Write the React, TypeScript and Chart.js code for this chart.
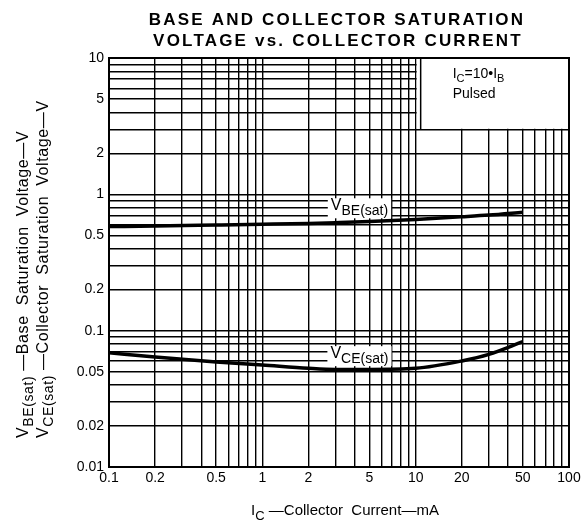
import React, { useEffect, useRef } from "react";
import { Chart, registerables } from "chart.js";

Chart.register(...registerables);

// ---- data ----
const currentMA = [0.1, 0.2, 0.5, 1, 2, 3, 5, 10, 20, 30, 50];
const vbeSat = [0.58, 0.585, 0.595, 0.603, 0.612, 0.62, 0.632, 0.655, 0.685, 0.705, 0.74];
const vceSat = [0.069, 0.064, 0.059, 0.056, 0.053, 0.052, 0.052, 0.053, 0.06, 0.067, 0.083];

const xTickLabels = [0.1, 0.2, 0.5, 1, 2, 5, 10, 20, 50, 100];
const yTickLabels = [0.01, 0.02, 0.05, 0.1, 0.2, 0.5, 1, 2, 5, 10];
const xDecades = [0.1, 1, 10];
const yDecades = [0.01, 0.1, 1];
const xMax = 100;
const yMax = 10;

// legend box (data coords) and curve label anchors
const boxX = [10, 100];
const boxY = [3, 10];
const labelAnchorX = [4.3, 4.3];
const labelAnchorY = [0.79, 0.065];
const curveLabelSubs = ["BE(sat)", "CE(sat)"];

const titleLines = ["BASE AND COLLECTOR SATURATION", "VOLTAGE vs. COLLECTOR CURRENT"];

const FONT = "'Liberation Sans', Arial, sans-serif";

function gridValues(decades: number[], max: number) {
  const out: number[] = [];
  decades.forEach((d) => {
    for (let m = 1; m <= 9; m++) out.push(+(d * m).toPrecision(6));
  });
  out.push(max);
  return out;
}
const xGrid = gridValues(xDecades, xMax);
const yGrid = gridValues(yDecades, yMax);

function isLabeled(v: number, list: number[]) {
  return list.some((l) => Math.abs(l - v) / l < 1e-6);
}

type Part = { t: string; sub?: boolean };

function drawRich(ctx: CanvasRenderingContext2D, parts: Part[], x: number, y: number, size: number, align: "left" | "center", subScale = 0.82, subOff = 0.3) {
  const fonts = parts.map((p) => `${p.sub ? Math.round(size * subScale) : size}px ${FONT}`);
  let total = 0;
  const widths = parts.map((p, i) => {
    ctx.font = fonts[i];
    const w = ctx.measureText(p.t).width;
    total += w;
    return w;
  });
  let cx = align === "center" ? x - total / 2 : x;
  ctx.textAlign = "left";
  ctx.textBaseline = "alphabetic";
  parts.forEach((p, i) => {
    ctx.font = fonts[i];
    ctx.fillText(p.t, cx, y + (p.sub ? size * subOff : 0));
    cx += widths[i];
  });
  return total;
}

const decoPlugin = {
  id: "deco",
  beforeDatasetsDraw(chart: any) {
    const ctx: CanvasRenderingContext2D = chart.ctx;
    const xs = chart.scales.x;
    const ys = chart.scales.y;
    const ca = chart.chartArea;
    ctx.save();
    // legend box
    const l = xs.getPixelForValue(boxX[0]);
    const r = xs.getPixelForValue(boxX[1]);
    const t = ys.getPixelForValue(boxY[1]);
    const b = ys.getPixelForValue(boxY[0]);
    ctx.fillStyle = "#fff";
    ctx.fillRect(l + 1, t + 1, r - l - 2, b - t - 1.5);
    ctx.strokeStyle = "#000";
    ctx.lineWidth = 1.5;
    ctx.beginPath();
    ctx.moveTo(l + 5, t);
    ctx.lineTo(l + 5, b);
    ctx.stroke();
    // frame
    ctx.lineWidth = 2;
    ctx.strokeRect(ca.left, ca.top, ca.right - ca.left, ca.bottom - ca.top);
    // legend text
    ctx.fillStyle = "#000";
    const tx = l + 37;
    drawRich(ctx, [{ t: "I" }, { t: "C", sub: true }, { t: "=10•I" }, { t: "B", sub: true }], tx, t + 20, 14, "left");
    ctx.font = `14px ${FONT}`;
    ctx.fillText("Pulsed", tx, t + 40);
    ctx.restore();
  },
  afterDatasetsDraw(chart: any) {
    const ctx: CanvasRenderingContext2D = chart.ctx;
    const xs = chart.scales.x;
    const ys = chart.scales.y;
    ctx.save();
    labelAnchorX.forEach((lx, i) => {
      const px = xs.getPixelForValue(lx);
      const py = ys.getPixelForValue(labelAnchorY[i]);
      const parts: Part[] = [{ t: "V" }, { t: curveLabelSubs[i], sub: true }];
      ctx.font = `16px ${FONT}`;
      const w1 = ctx.measureText("V").width;
      ctx.font = `${Math.round(16 * 0.88)}px ${FONT}`;
      const w2 = ctx.measureText(curveLabelSubs[i]).width;
      const w = w1 + w2;
      ctx.fillStyle = "#fff";
      ctx.fillRect(px - w / 2 - 3, py - 10, w + 6, 20);
      ctx.fillStyle = "#000";
      drawRich(ctx, parts, px, py + 2, 16, "center", 0.88, 0.3);
    });
    ctx.restore();
  },
  afterDraw(chart: any) {
    const ctx: CanvasRenderingContext2D = chart.ctx;
    ctx.save();
    ctx.fillStyle = "#000";
    // title
    ctx.font = `bold 17px ${FONT}`;
    (ctx as any).letterSpacing = "2.2px";
    ctx.textAlign = "center";
    ctx.textBaseline = "alphabetic";
    ctx.fillText(titleLines[0], 337, 25);
    ctx.fillText(titleLines[1], 338, 46);
    (ctx as any).letterSpacing = "0px";
    // x axis title
    drawRich(ctx, [{ t: "I" }, { t: "C", sub: true }, { t: " —Collector  Current—mA" }], 345, 515, 15, "center", 0.85, 0.3);
    // y axis titles
    (ctx as any).letterSpacing = "0.6px";
    ctx.save();
    ctx.translate(28, 438);
    ctx.rotate(-Math.PI / 2);
    drawRich(ctx, [{ t: "V" }, { t: "BE(sat)", sub: true }, { t: " —Base  Saturation  Voltage—V" }], 0, 0, 16, "left", 0.85, 0.3);
    ctx.restore();
    ctx.save();
    ctx.translate(48, 438);
    ctx.rotate(-Math.PI / 2);
    drawRich(ctx, [{ t: "V" }, { t: "CE(sat)", sub: true }, { t: " —Collector  Saturation  Voltage—V" }], 0, 0, 16, "left", 0.85, 0.3);
    ctx.restore();
    (ctx as any).letterSpacing = "0px";
    ctx.restore();
  },
};

export default function App() {
  const ref = useRef<HTMLCanvasElement | null>(null);
  useEffect(() => {
    if (!ref.current) return;
    const mk = (vals: number[]) => currentMA.map((x, i) => ({ x, y: vals[i] }));
    const chart = new Chart(ref.current, {
      type: "line",
      data: {
        datasets: [
          { label: "VBE(sat)", data: mk(vbeSat), borderColor: "#000", borderWidth: 3.5, pointRadius: 0, cubicInterpolationMode: "monotone", fill: false },
          { label: "VCE(sat)", data: mk(vceSat), borderColor: "#000", borderWidth: 3.5, pointRadius: 0, cubicInterpolationMode: "monotone", fill: false },
        ],
      },
      options: {
        animation: false,
        responsive: false,
        maintainAspectRatio: false,
        layout: { padding: { left: 0, right: 19, top: 58, bottom: 0 } },
        plugins: { legend: { display: false }, tooltip: { enabled: false }, title: { display: false } },
        scales: {
          x: {
            type: "logarithmic",
            min: xGrid[0],
            max: xMax,
            afterBuildTicks: (s: any) => {
              s.ticks = xGrid.map((v) => ({ value: v }));
            },
            afterFit: (s: any) => {
              s.height = 60;
            },
            ticks: {
              autoSkip: false,
              maxRotation: 0,
              padding: 3,
              color: "#000",
              font: { family: FONT, size: 14 },
              callback: (v: any) => (isLabeled(Number(v), xTickLabels) ? String(Number(v)) : ""),
            },
            grid: { color: "#000", lineWidth: 1.4, drawTicks: false },
            border: { display: true, color: "#000", width: 2 },
          },
          y: {
            type: "logarithmic",
            min: yGrid[0],
            max: yMax,
            afterBuildTicks: (s: any) => {
              s.ticks = yGrid.map((v) => ({ value: v }));
            },
            afterFit: (s: any) => {
              s.width = 109;
            },
            ticks: {
              autoSkip: false,
              padding: 5,
              color: "#000",
              font: { family: FONT, size: 14 },
              callback: (v: any) => (isLabeled(Number(v), yTickLabels) ? String(Number(v)) : ""),
            },
            grid: { color: "#000", lineWidth: 1.4, drawTicks: false },
            border: { display: true, color: "#000", width: 2 },
          },
        },
      },
      plugins: [decoPlugin],
    } as any);
    return () => chart.destroy();
  }, []);
  return (
    <div style={{ position: "absolute", left: 0, top: 0, width: 588, height: 527, background: "#fff" }}>
      <canvas ref={ref} width={588} height={527} style={{ width: 588, height: 527 }} />
    </div>
  );
}
